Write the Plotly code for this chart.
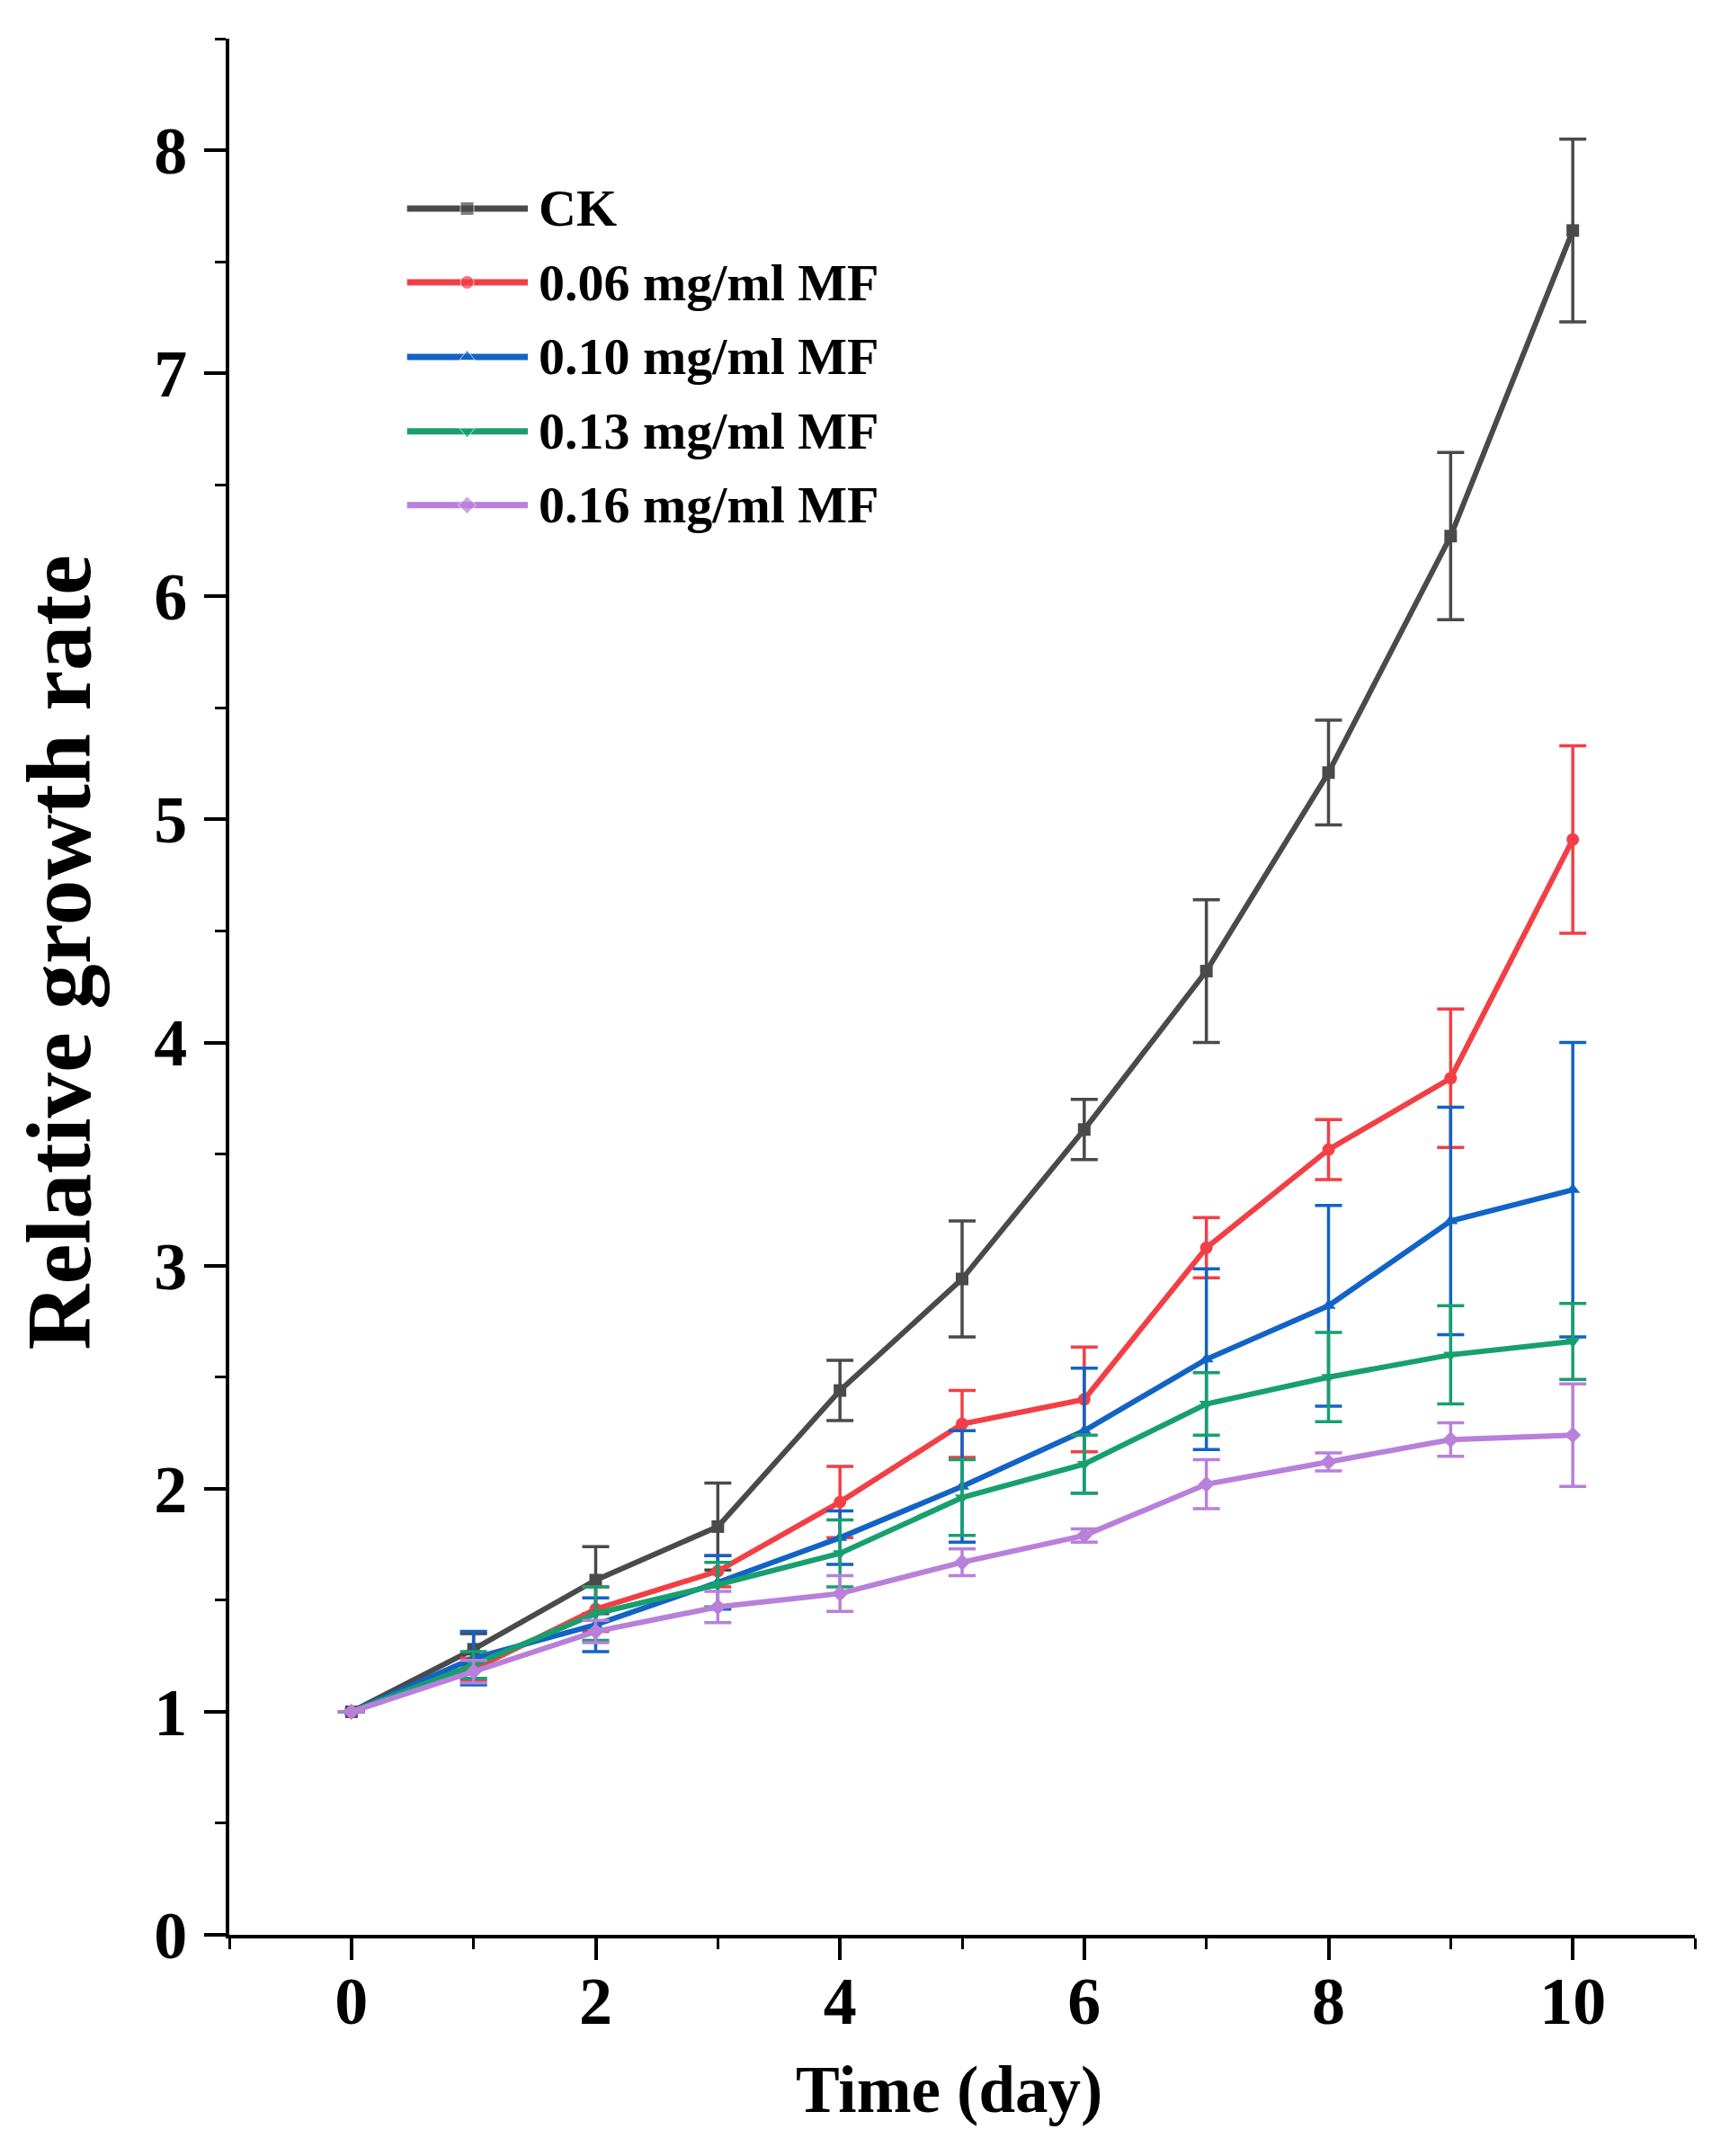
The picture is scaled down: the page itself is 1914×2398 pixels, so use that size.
import plotly.graph_objects as go

# time axis (days)
days = [0, 1, 2, 3, 4, 5, 6, 7, 8, 9, 10]

# relative growth rate, mean and error
ck = [1.00, 1.28, 1.59, 1.83, 2.44, 2.94, 3.61, 4.32, 5.21, 6.27, 7.64]
ck_err = [0, 0.07, 0.15, 0.195, 0.135, 0.26, 0.135, 0.32, 0.235, 0.375, 0.41]

mf006 = [1.00, 1.19, 1.46, 1.63, 1.94, 2.29, 2.40, 3.08, 3.52, 3.84, 4.91]
mf006_err = [0, 0.05, 0.10, 0.07, 0.16, 0.15, 0.235, 0.135, 0.135, 0.31, 0.42]

mf010 = [1.00, 1.24, 1.39, 1.58, 1.78, 2.01, 2.26, 2.58, 2.82, 3.20, 3.34]
mf010_err = [0, 0.12, 0.12, 0.12, 0.12, 0.25, 0.28, 0.405, 0.45, 0.51, 0.66]

mf013 = [1.00, 1.21, 1.44, 1.57, 1.71, 1.96, 2.11, 2.38, 2.50, 2.60, 2.66]
mf013_err = [0, 0.06, 0.12, 0.10, 0.15, 0.17, 0.13, 0.14, 0.20, 0.22, 0.17]

mf016 = [1.00, 1.18, 1.36, 1.47, 1.53, 1.67, 1.79, 2.02, 2.12, 2.22, 2.24]
mf016_err = [0, 0.05, 0.05, 0.07, 0.08, 0.06, 0.03, 0.11, 0.04, 0.075, 0.23]

names = ["CK", "0.06 mg/ml MF", "0.10 mg/ml MF", "0.13 mg/ml MF", "0.16 mg/ml MF"]
means = [ck, mf006, mf010, mf013, mf016]
errs = [ck_err, mf006_err, mf010_err, mf013_err, mf016_err]
colors = ["#4a4a4a", "#f23f45", "#1263c6", "#17a06e", "#b880da"]
symbols = ["square", "circle", "triangle-up", "triangle-down", "diamond"]

FONT = "Liberation Serif"

fig = go.Figure()

for name, y, e, c, s in zip(names, means, errs, colors, symbols):
    fig.add_trace(go.Scatter(
        x=days, y=y, name=name,
        mode="lines+markers",
        line=dict(color=c, width=6),
        marker=dict(symbol=s, size=14, color=c),
        error_y=dict(type="data", array=e, visible=True,
                     color=c, thickness=3.5, width=15),
        showlegend=False,
    ))

# hand-drawn legend on an overlay axis (long line samples like the original)
leg_rows = [0.9104, 0.8715, 0.8322, 0.7929, 0.7540]
for name, c, s, r in zip(names, colors, symbols, leg_rows):
    fig.add_trace(go.Scatter(
        x=[0.1213, 0.1623, 0.2037], y=[r, r, r],
        xaxis="x2", yaxis="y2",
        mode="lines+markers",
        line=dict(color=c, width=7),
        marker=dict(symbol=s, size=[0, 15, 0], color=c),
        showlegend=False, hoverinfo="skip",
    ))
    fig.add_annotation(
        text="<b>%s</b>" % name, x=0.2098, y=r, xref="paper", yref="paper",
        xanchor="left", yanchor="middle", showarrow=False,
        font=dict(family=FONT, size=58, color="black"),
    )

# axis titles
fig.add_annotation(
    text="<b>Relative growth rate</b>", x=-0.116, y=0.518,
    xref="paper", yref="paper", textangle=-90,
    xanchor="center", yanchor="middle", showarrow=False,
    font=dict(family=FONT, size=101, color="black"),
)
fig.add_annotation(
    text="<b>Time (day)</b>", x=0.4914, y=-0.0816,
    xref="paper", yref="paper",
    xanchor="center", yanchor="middle", showarrow=False,
    font=dict(family=FONT, size=73, color="black"),
)

axis_common = dict(
    showline=True, linewidth=4, linecolor="black",
    showgrid=False, zeroline=False,
    ticks="outside", ticklen=24, tickwidth=4, tickcolor="black",
    tickfont=dict(family=FONT, size=74, color="black", weight="bold"),
)

fig.update_layout(
    width=1914, height=2398,
    margin=dict(l=247, r=37, t=35, b=254),
    paper_bgcolor="white", plot_bgcolor="white",
    xaxis=dict(range=[-1, 11], tick0=0, dtick=2, ticklabelstandoff=-18,
               minor=dict(dtick=1, ticks="outside", ticklen=12,
                          tickwidth=3, tickcolor="black"),
               **axis_common),
    yaxis=dict(range=[0, 8.5], tick0=0, dtick=1, ticklabelstandoff=4,
               minor=dict(dtick=0.5, ticks="outside", ticklen=12,
                          tickwidth=3, tickcolor="black"),
               **axis_common),
    xaxis2=dict(overlaying="x", range=[0, 1], visible=False),
    yaxis2=dict(overlaying="y", range=[0, 1], visible=False),
    showlegend=False,
)

fig.write_html("out.html")
